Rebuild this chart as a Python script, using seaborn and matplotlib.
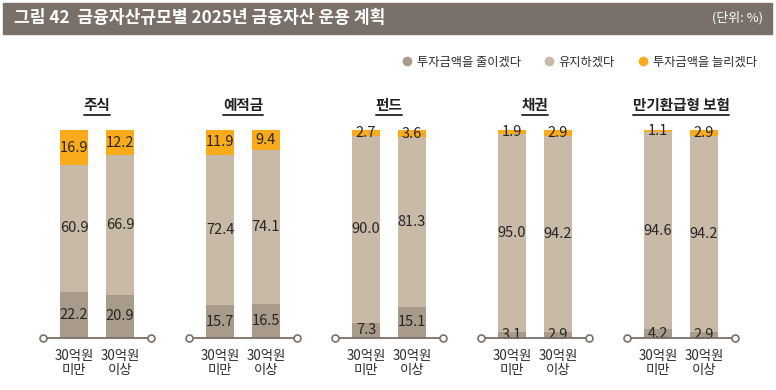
import numpy as np
import pandas as pd
import matplotlib
matplotlib.use("Agg")
import matplotlib.pyplot as plt
import seaborn as sns
from matplotlib.lines import Line2D
from matplotlib.patches import Rectangle

# values (%)
groups = ["주식", "예적금", "펀드", "채권", "만기환급형 보험"]
sizes = ["30억원\n미만", "30억원\n이상"]
reduce_vals = [22.2, 20.9, 15.7, 16.5, 7.3, 15.1, 3.1, 2.9, 4.2, 2.9]
keep_vals = [60.9, 66.9, 72.4, 74.1, 90.0, 81.3, 95.0, 94.2, 94.6, 94.2]
raise_vals = [16.9, 12.2, 11.9, 9.4, 2.7, 3.6, 1.9, 2.9, 1.1, 2.9]

series_names = ["투자금액을 줄이겠다", "유지하겠다", "투자금액을 늘리겠다"]
colors = ["#a99b8a", "#c9b9a7", "#f9ab1b"]


def main():
  sns.set_style("white")
  plt.rcParams["font.family"] = ["Noto Sans CJK KR", "DejaVu Sans"]

  df = pd.DataFrame({
    "group": np.repeat(groups, 2),
    "size": sizes * len(groups),
    "reduce": reduce_vals,
    "keep": keep_vals,
    "raise": raise_vals,
  })
  df["cum_keep"] = df["reduce"] + df["keep"]
  df["total"] = df["cum_keep"] + df["raise"]

  W, H = 776, 390
  fig = plt.figure(figsize=(W / 100, H / 100), dpi=100)

  # title bar
  fig.patches.append(Rectangle((3 / W, 1 - 34 / H), 769 / W, 31 / H,
                               transform=fig.transFigure, color="#797169", zorder=0))
  fig.text(14 / W, 1 - 18 / H, "그림 42  금융자산규모별 2025년 금융자산 운용 계획",
           color="white", fontsize=12.3, fontweight="bold", va="center", ha="left")
  fig.text(763 / W, 1 - 18 / H, "(단위: %)", color="white", fontsize=9.3,
           va="center", ha="right")

  header_texts = []
  for i, g in enumerate(groups):
    ax = fig.add_axes([(43 + 146 * i) / W, (H - 338) / H, 108 / W, 208 / H])
    sub = df[df["group"] == g]

    # stacked bars: draw cumulative layers from the top down
    for col, c in zip(["total", "cum_keep", "reduce"], colors[::-1]):
      sns.barplot(data=sub, x="size", y=col, color=c, saturation=1,
                  width=0.61, linewidth=0, ax=ax, errorbar=None)

    # value labels centered in each segment
    for j, (_, row) in enumerate(sub.iterrows()):
      bottoms = [0, row["reduce"], row["cum_keep"]]
      for b, v in zip(bottoms, [row["reduce"], row["keep"], row["raise"]]):
        ax.text(j, b + v / 2, f"{v:.1f}", ha="center", va="center",
                fontsize=10.5, color="#262626")

    # baseline with open circles at both ends
    ax.plot([-0.674, 1.674], [0, 0], color="#7a7068", lw=1.3, clip_on=False, zorder=3)
    ax.plot([-0.674, 1.674], [0, 0], ls="none", marker="o", ms=5, mfc="white",
            mec="#7a7068", mew=1.2, clip_on=False, zorder=4)

    ax.set_xlim(-0.674, 1.674)
    ax.set_ylim(0, 100)
    ax.set_xlabel("")
    ax.set_ylabel("")
    ax.set_yticks([])
    ax.tick_params(axis="x", length=0, pad=8, labelsize=9.6, labelcolor="#2b2b2b")
    for sp in ax.spines.values():
      sp.set_visible(False)
    for lbl in ax.get_xticklabels():
      lbl.set_linespacing(1.0)

    # group header in figure coords
    t = fig.text((43 + 146 * i + 54) / W, 1 - 105 / H, g, ha="center", va="center",
                 fontsize=10.5, fontweight="bold", color="#222222")
    header_texts.append(t)

  # underline each header
  fig.canvas.draw()
  for t in header_texts:
    bb = t.get_window_extent()
    fig.add_artist(Line2D([bb.x0 / W, bb.x1 / W], [1 - 115 / H, 1 - 115 / H],
                          transform=fig.transFigure, color="#333333", lw=1.4))

  # legend
  handles = [Line2D([0], [0], marker="o", ls="none", ms=6, mfc=c, mec=c, label=n)
             for n, c in zip(series_names, colors)]
  fig.legend(handles=handles, loc="center right", bbox_to_anchor=(768 / W, 1 - 62 / H),
             ncol=3, frameon=False, fontsize=8.8, handlelength=0.6,
             handletextpad=0.5, columnspacing=2.0, labelcolor="#2b2b2b")

  fig.savefig("out.png", dpi=100)
  plt.close()


if __name__ == "__main__":
  main()
